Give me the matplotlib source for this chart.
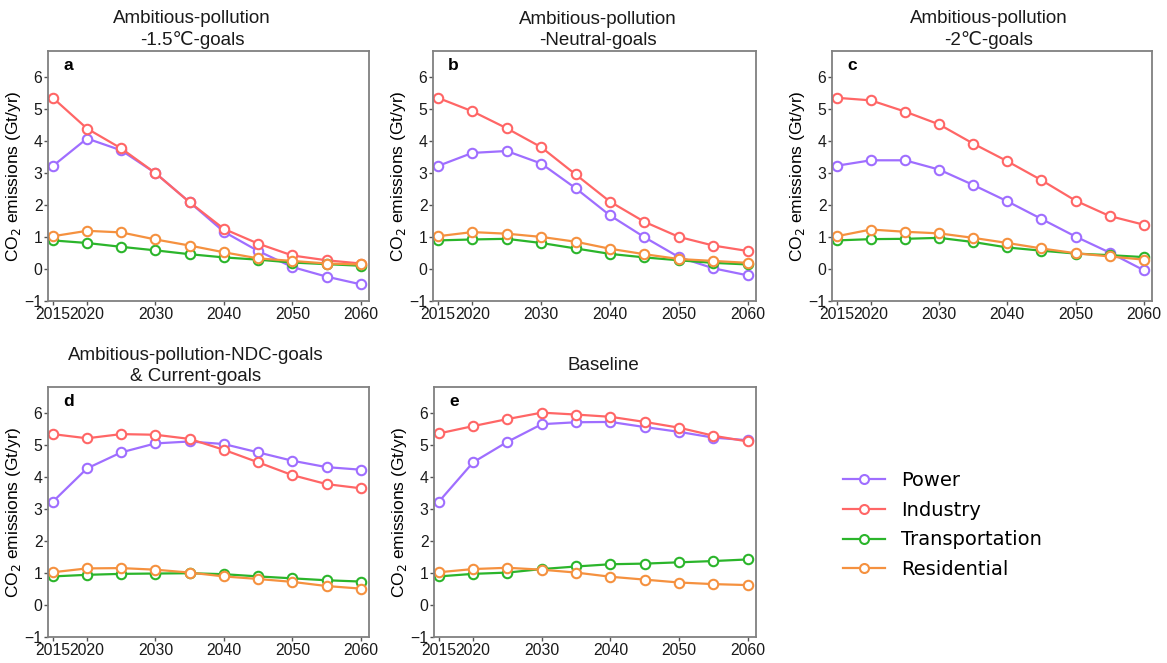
import matplotlib.pyplot as plt

plt.rcParams['font.family'] = ['Liberation Sans', 'DejaVu Sans']

# Dados
anos = [2015, 2020, 2025, 2030, 2035, 2040, 2045, 2050, 2055, 2060]
setores = ['Power', 'Industry', 'Transportation', 'Residential']
cores = ['#9f6eff', '#ff6666', '#2bb52b', '#f5913f']

titulos = ['Ambitious-pollution\n-1.5\u2103-goals',
           'Ambitious-pollution\n-Neutral-goals',
           'Ambitious-pollution\n-2\u2103-goals',
           'Ambitious-pollution-NDC-goals\n& Current-goals',
           'Baseline']
letras = ['a', 'b', 'c', 'd', 'e']

# a
power_a = [3.21, 4.07, 3.70, 2.99, 2.08, 1.16, 0.56, 0.06, -0.24, -0.48]
industry_a = [5.34, 4.38, 3.76, 2.99, 2.08, 1.25, 0.79, 0.42, 0.27, 0.17]
transport_a = [0.89, 0.81, 0.69, 0.58, 0.46, 0.36, 0.29, 0.20, 0.15, 0.10]
residential_a = [1.02, 1.19, 1.14, 0.92, 0.73, 0.52, 0.33, 0.25, 0.17, 0.14]

# b
power_b = [3.21, 3.62, 3.68, 3.29, 2.52, 1.67, 0.99, 0.37, 0.02, -0.20]
industry_b = [5.34, 4.92, 4.39, 3.80, 2.95, 2.10, 1.47, 1.00, 0.73, 0.56]
transport_b = [0.89, 0.92, 0.94, 0.81, 0.64, 0.47, 0.36, 0.27, 0.19, 0.14]
residential_b = [1.02, 1.15, 1.10, 1.00, 0.85, 0.63, 0.46, 0.31, 0.25, 0.19]

# c
power_c = [3.22, 3.39, 3.39, 3.10, 2.62, 2.11, 1.56, 1.01, 0.51, -0.04]
industry_c = [5.34, 5.26, 4.91, 4.51, 3.91, 3.36, 2.77, 2.13, 1.65, 1.38]
transport_c = [0.89, 0.93, 0.94, 0.97, 0.84, 0.67, 0.57, 0.48, 0.43, 0.37]
residential_c = [1.02, 1.23, 1.16, 1.11, 0.97, 0.81, 0.64, 0.49, 0.39, 0.29]

# d
power_d = [3.22, 4.26, 4.76, 5.04, 5.10, 5.02, 4.76, 4.50, 4.30, 4.22]
industry_d = [5.33, 5.20, 5.33, 5.31, 5.18, 4.84, 4.45, 4.05, 3.77, 3.64]
transport_d = [0.89, 0.94, 0.97, 0.98, 0.99, 0.96, 0.89, 0.83, 0.77, 0.73]
residential_d = [1.02, 1.14, 1.15, 1.10, 1.01, 0.89, 0.81, 0.72, 0.59, 0.51]

# e
power_e = [3.22, 4.45, 5.09, 5.64, 5.70, 5.71, 5.55, 5.40, 5.22, 5.14]
industry_e = [5.35, 5.58, 5.80, 6.00, 5.94, 5.87, 5.71, 5.53, 5.28, 5.10]
transport_e = [0.89, 0.97, 1.01, 1.12, 1.20, 1.27, 1.29, 1.33, 1.37, 1.42]
residential_e = [1.02, 1.12, 1.16, 1.10, 1.01, 0.88, 0.79, 0.70, 0.65, 0.62]

dados = [
    [power_a, industry_a, transport_a, residential_a],
    [power_b, industry_b, transport_b, residential_b],
    [power_c, industry_c, transport_c, residential_c],
    [power_d, industry_d, transport_d, residential_d],
    [power_e, industry_e, transport_e, residential_e],
]

# Layout (pixels da figura)
W, H = 1167, 663
caixas = [(48, 51, 321), (433, 51, 323), (832, 51, 320),
          (48, 387, 321), (434, 387, 322)]
titulo_x = [0.449, 0.511, 0.49, 0.459, 0.525]

fig = plt.figure(figsize=(W / 100, H / 100), dpi=100)

for i in range(5):
    x0, y0, w = caixas[i]
    ax = fig.add_axes([x0 / W, (H - y0 - 250) / H, w / W, 250 / H])
    for serie, cor, nome in zip(dados[i], cores, setores):
        ax.plot(anos, serie, color=cor, lw=1.6, marker='o', ms=6.8,
                mfc='white', mec=cor, mew=1.5, label=nome)
    ax.set_xlim(2014.3, 2061.2)
    ax.set_ylim(-1, 6.8)
    ax.set_xticks([2015, 2020, 2030, 2040, 2050, 2060])
    ax.set_yticks(range(-1, 7))
    ax.tick_params(labelsize=11.3, length=3, width=1, color='#555555',
                   labelcolor='#1a1a1a', pad=1)
    for s in ax.spines.values():
        s.set_color('#808080')
        s.set_linewidth(1.3)
    ax.set_ylabel('CO$_2$ emissions (Gt/yr)', fontsize=12.5, labelpad=1)
    ax.text(0.047, 0.94, letras[i], transform=ax.transAxes, fontsize=12.5,
            fontweight='bold', va='center', ha='left')
    ax.text(titulo_x[i], 1.085, titulos[i], transform=ax.transAxes,
            fontsize=13.5, ha='center', va='center', linespacing=1.3,
            color='#1a1a1a')

handles, labels = ax.get_legend_handles_labels()
fig.legend(handles, labels, loc='center left', frameon=False,
           bbox_to_anchor=(825 / W, (H - 525) / H),
           handlelength=2.2, handletextpad=0.8, labelspacing=0.55,
           markerscale=0.95, prop={'family': 'DejaVu Sans', 'size': 14})

plt.savefig('out.png', dpi=100)
